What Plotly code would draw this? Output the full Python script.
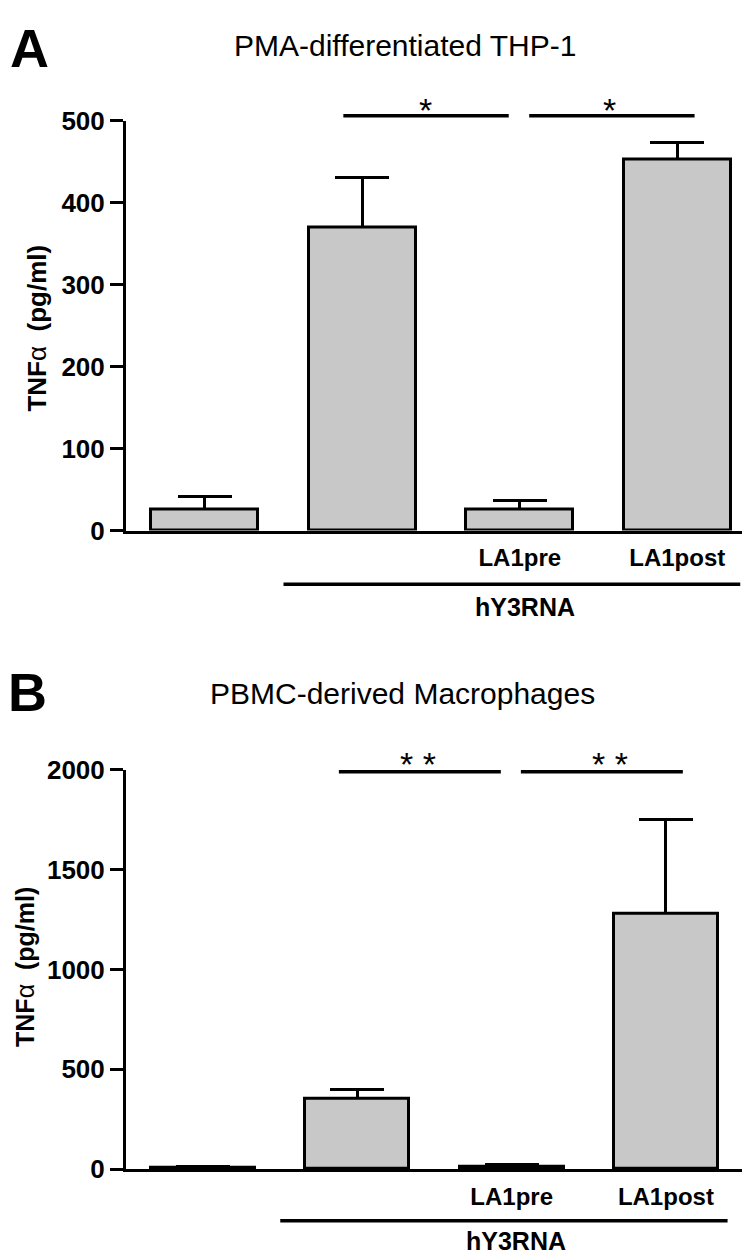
import plotly.graph_objects as go

# categories (positions 0..3 along x)
categories = ["", "", "LA1pre", "LA1post"]

# Panel A: PMA-differentiated THP-1, TNFa (pg/ml)
thp1_mean = [25, 369, 25, 452]
thp1_err = [16, 62, 12, 21]

# Panel B: PBMC-derived macrophages, TNFa (pg/ml)
mac_mean = [6, 352, 10, 1280]
mac_err = [8, 44, 14, 470]

# significance brackets (from category, to category) and group line span
sig_pairs = [(0.88, 1.93), (2.06, 3.11)]
group_span = (0.50, 3.40)

W, H = 750, 1259
FONT = "Liberation Sans, Arial, Helvetica, sans-serif"
BAR_FILL = "#c8c8c8"
X_RANGE = [-0.5, 3.5]

# panel geometry in pixels
A_X = (118, 748)
A_Y = (520, 100)
B_X = (118, 735)
B_Y = (1174, 765)


def px_x(px):
    return px / W


def px_y(py):
    return 1 - py / H


def cat_to_paper(v, span):
    """Map a category position to paper x for a panel spanning `span` px."""
    frac = (v - X_RANGE[0]) / (X_RANGE[1] - X_RANGE[0])
    return px_x(span[0] + frac * (span[1] - span[0]))


fig = go.Figure()


def add_panel(means, errs, xa, ya, bar_width):
    x = list(range(len(means)))
    # invisible bars carrying the upper error bars (drawn underneath)
    fig.add_trace(
        go.Bar(
            x=x,
            y=means,
            width=bar_width,
            marker=dict(color="rgba(0,0,0,0)", line=dict(width=0)),
            error_y=dict(
                type="data",
                array=errs,
                arrayminus=[0] * len(errs),
                symmetric=False,
                color="black",
                thickness=3,
                width=27,
            ),
            xaxis=xa,
            yaxis=ya,
            showlegend=False,
            hoverinfo="skip",
        )
    )
    # visible bars on top, hiding the lower caps
    fig.add_trace(
        go.Bar(
            x=x,
            y=means,
            width=bar_width,
            marker=dict(color=BAR_FILL, line=dict(color="black", width=3)),
            xaxis=xa,
            yaxis=ya,
            showlegend=False,
        )
    )


add_panel(thp1_mean, thp1_err, "x", "y", 0.68)
add_panel(mac_mean, mac_err, "x2", "y2", 0.675)

shapes = []


def hline(x0, x1, py, span):
    shapes.append(
        dict(
            type="line",
            xref="paper",
            yref="paper",
            x0=cat_to_paper(x0, span),
            x1=cat_to_paper(x1, span),
            y0=px_y(py),
            y1=px_y(py),
            line=dict(color="black", width=3.5),
        )
    )


for a, b in sig_pairs:
    hline(a, b, 95, A_X)
    hline(a, b, 767, B_X)
hline(group_span[0], group_span[1], 575, A_X)
hline(group_span[0], group_span[1], 1227, B_X)

xaxis_common = dict(
    range=X_RANGE,
    tickvals=list(range(len(categories))),
    ticktext=categories,
    showline=True,
    linecolor="black",
    linewidth=3,
    ticks="",
    showgrid=False,
    zeroline=False,
    tickfont=dict(family=FONT, size=24, color="black", weight="bold"),
    ticklabelstandoff=4,
    fixedrange=True,
)
yaxis_common = dict(
    showline=True,
    linecolor="black",
    linewidth=3,
    ticks="outside",
    ticklen=13,
    tickwidth=3,
    tickcolor="black",
    showgrid=False,
    zeroline=False,
    tickfont=dict(family=FONT, size=26, color="black", weight="bold"),
    fixedrange=True,
)

fig.update_layout(
    width=W,
    height=H,
    margin=dict(l=0, r=0, t=0, b=0),
    paper_bgcolor="white",
    plot_bgcolor="white",
    barmode="overlay",
    bargap=0,
    xaxis=dict(xaxis_common, domain=[px_x(A_X[0]), px_x(A_X[1])], anchor="y"),
    yaxis=dict(
        yaxis_common,
        domain=[px_y(A_Y[0]), px_y(A_Y[1])],
        range=[0, 500],
        tickvals=[0, 100, 200, 300, 400, 500],
        anchor="x",
    ),
    xaxis2=dict(xaxis_common, domain=[px_x(B_X[0]), px_x(B_X[1])], anchor="y2"),
    yaxis2=dict(
        yaxis_common,
        domain=[px_y(B_Y[0]), px_y(B_Y[1])],
        range=[0, 2000],
        tickvals=[0, 500, 1000, 1500, 2000],
        anchor="x2",
    ),
    shapes=shapes,
)

annotations = []


def text(x, y, s, size, bold=False, angle=0, xanchor="center", yanchor="middle"):
    annotations.append(
        dict(
            x=px_x(x),
            y=px_y(y),
            xref="paper",
            yref="paper",
            text=s,
            showarrow=False,
            textangle=angle,
            xanchor=xanchor,
            yanchor=yanchor,
            font=dict(family=FONT, size=size, color="black", weight="bold" if bold else "normal"),
        )
    )


# panel letters and titles
text(21, 26, "A", 54, bold=True)
text(397, 23, "PMA-differentiated THP-1", 30)
text(19, 685, "B", 54, bold=True)
text(395, 687, "PBMC-derived Macrophages", 30)

# y axis titles
ytitle = "TNF<span style='font-weight:normal'>α</span>  (pg/ml)"
text(29, 313, ytitle, 26, bold=True, angle=-90)
text(17, 967, ytitle, 25, bold=True, angle=-90)

# group labels
text(517, 598, "hY3RNA", 25, bold=True)
text(508, 1248, "hY3RNA", 25, bold=True)

# significance stars
text(417, 89, "*", 34)
text(601, 89, "*", 34)
text(410, 759, "* *", 34)
text(602, 759, "* *", 34)

fig.update_layout(annotations=annotations)

fig.write_html("out.html")
